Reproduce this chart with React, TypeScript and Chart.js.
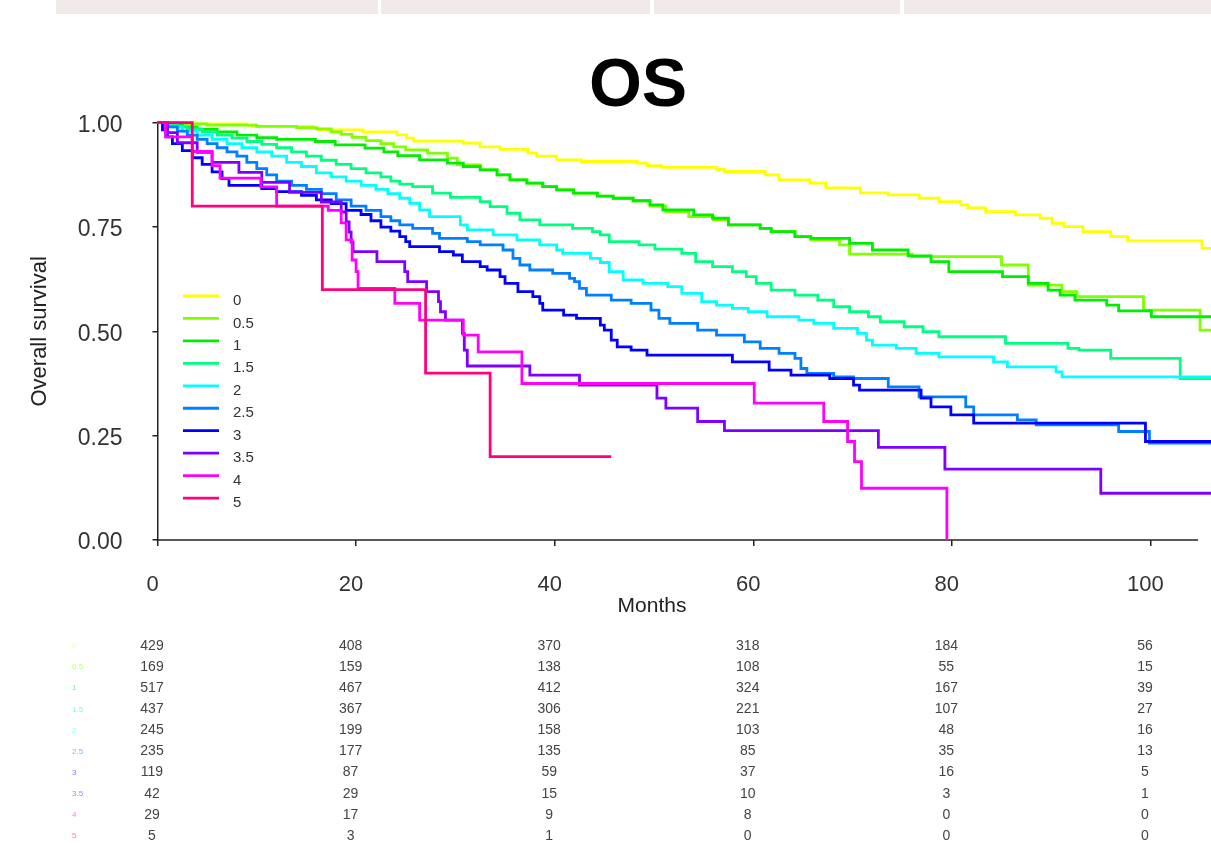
import React, { useEffect, useRef } from 'react';
import { Chart, registerables } from 'chart.js';

Chart.register(...registerables);

// ---------- data ----------
const groupLabels = ['0', '0.5', '1', '1.5', '2', '2.5', '3', '3.5', '4', '5'];
const groupColors = ['#ffff00', '#80ff00', '#00ee00', '#00ff80', '#00ffff', '#0080ff', '#0000ff', '#8000ff', '#ff00ff', '#ff0080'];

// [months, survival] after each step
const surv0: [number, number][] = [[0,1],[3.6,0.997],[9,0.994],[9.6,0.991],[15.7,0.987],[16.2,0.983],[20.7,0.978],[24.1,0.971],[25.1,0.963],[25.8,0.956],[30.8,0.951],[32.5,0.942],[34.5,0.936],[37.3,0.927],[38.2,0.92],[40.2,0.911],[42.7,0.907],[48.3,0.903],[49.3,0.897],[50.8,0.893],[56.3,0.888],[57.1,0.883],[61.2,0.875],[62.6,0.863],[65.7,0.855],[67.3,0.844],[70.8,0.832],[73.6,0.827],[76.7,0.819],[78.7,0.811],[80.9,0.803],[81.6,0.796],[83.4,0.787],[86.4,0.779],[88.9,0.771],[90.1,0.759],[91.3,0.751],[93.2,0.739],[96,0.727],[97.7,0.717],[105.2,0.699],[107,0.699]];
const surv05: [number, number][] = [[0,1],[2,0.997],[5,0.994],[10,0.991],[14,0.988],[16,0.985],[17.5,0.978],[18.5,0.972],[19.6,0.965],[21,0.957],[22.5,0.95],[23.8,0.942],[25,0.935],[27.2,0.927],[29.2,0.915],[30.2,0.899],[32.5,0.887],[34.2,0.875],[35.5,0.863],[37.2,0.855],[38.8,0.847],[40.2,0.839],[41.9,0.831],[44.3,0.824],[45.9,0.819],[47.9,0.813],[49.6,0.8],[51.2,0.787],[53.5,0.775],[56,0.767],[57.5,0.755],[60.7,0.747],[61.8,0.739],[64.2,0.727],[65.8,0.719],[68.7,0.707],[69.7,0.685],[76,0.679],[85,0.659],[87.7,0.611],[91.1,0.595],[92.6,0.583],[99.3,0.551],[105,0.503],[107,0.503]];
const surv1: [number, number][] = [[0,1],[1,0.995],[2.5,0.99],[4,0.984],[6,0.978],[8,0.97],[10,0.964],[12,0.96],[15.9,0.955],[17.9,0.947],[20.9,0.939],[22.8,0.93],[24.2,0.921],[26.4,0.911],[29.2,0.903],[30.8,0.895],[32.5,0.887],[34.2,0.875],[35.5,0.863],[37.2,0.855],[38.8,0.847],[40.2,0.839],[41.9,0.831],[44.3,0.824],[45.9,0.819],[47.9,0.813],[49.6,0.803],[50.9,0.791],[54,0.779],[55.9,0.771],[57.5,0.755],[60.7,0.747],[61.8,0.739],[64.2,0.727],[65.8,0.723],[69.7,0.711],[72,0.695],[75.6,0.681],[77.9,0.667],[79.7,0.643],[85.1,0.631],[87.7,0.615],[89.7,0.599],[90.9,0.587],[92.4,0.575],[95.6,0.563],[96.8,0.549],[100.1,0.535],[107,0.535]];
const surv15: [number, number][] = [[0,1],[1,0.995],[2,0.99],[3,0.985],[4.5,0.978],[6,0.97],[7.5,0.963],[9,0.955],[10.5,0.948],[12,0.94],[13.5,0.93],[15,0.92],[16.5,0.91],[18,0.9],[19.5,0.89],[21,0.88],[22.5,0.87],[23.5,0.86],[24.4,0.853],[25.7,0.847],[27.7,0.831],[29.5,0.821],[32.5,0.811],[33.5,0.799],[35.2,0.783],[36.5,0.767],[38.5,0.755],[41.8,0.747],[43.8,0.739],[44.6,0.731],[45.5,0.715],[48.5,0.707],[50.1,0.697],[52.8,0.687],[54.2,0.667],[55.9,0.655],[57.9,0.643],[59.3,0.631],[60.3,0.615],[61.8,0.599],[64.2,0.587],[66.5,0.575],[68.1,0.559],[69.7,0.547],[71.6,0.535],[72.8,0.523],[75.2,0.511],[77.1,0.499],[78.7,0.487],[85.4,0.471],[91.7,0.459],[92.8,0.455],[96,0.435],[103,0.387],[107,0.387]];
const surv2: [number, number][] = [[0,1],[1,0.99],[2.5,0.98],[4,0.97],[5.5,0.96],[7,0.95],[8.5,0.94],[10,0.93],[11.5,0.92],[13,0.905],[14.5,0.895],[16,0.88],[17.5,0.87],[19,0.86],[20.5,0.85],[22,0.84],[23.2,0.83],[24.4,0.819],[25.4,0.807],[26.4,0.791],[27.4,0.775],[30.5,0.755],[31.2,0.743],[33.8,0.731],[36.2,0.719],[38.5,0.707],[40.2,0.695],[40.8,0.687],[43.6,0.675],[44.6,0.665],[45.5,0.643],[46.9,0.623],[48.9,0.615],[51.4,0.607],[52.8,0.591],[54.8,0.571],[56.3,0.563],[57.9,0.555],[59.5,0.547],[61.4,0.535],[64.6,0.527],[66.1,0.519],[68.1,0.507],[70.5,0.495],[71.4,0.479],[72,0.467],[74.4,0.459],[76.4,0.447],[78.7,0.439],[84.2,0.427],[85.6,0.415],[90.5,0.403],[91.1,0.391],[107,0.391]];
const surv25: [number, number][] = [[0,1],[1,0.99],[2,0.98],[3,0.97],[4,0.96],[5,0.95],[6,0.94],[7,0.93],[8,0.92],[9,0.905],[10,0.89],[11,0.875],[12,0.86],[13.5,0.85],[15,0.84],[16.5,0.83],[18,0.815],[19.5,0.8],[21,0.79],[22.5,0.775],[23.5,0.765],[24.4,0.755],[25.7,0.747],[27.7,0.735],[28.4,0.723],[31.2,0.715],[32.5,0.707],[34.8,0.695],[35.8,0.675],[36.5,0.659],[37.5,0.647],[39.8,0.639],[41.5,0.627],[42,0.619],[42.5,0.603],[43.2,0.587],[45.7,0.575],[47.7,0.567],[49.7,0.551],[50.5,0.531],[51.6,0.519],[54.4,0.503],[56.3,0.491],[59.1,0.475],[60.7,0.459],[62.6,0.447],[64.2,0.435],[64.8,0.411],[65.4,0.399],[68.1,0.391],[70.1,0.387],[73.6,0.367],[76.7,0.343],[81.4,0.319],[82.2,0.3],[86.6,0.288],[88.5,0.276],[96.8,0.26],[99.9,0.232],[107,0.232]];
const surv3: [number, number][] = [[0,1],[0.5,0.983],[1,0.966],[1.5,0.95],[2.5,0.933],[3.5,0.916],[4.5,0.9],[5.5,0.882],[6.5,0.866],[7.2,0.85],[10.5,0.842],[12,0.835],[14.5,0.826],[16,0.815],[17.5,0.806],[19,0.79],[20.5,0.78],[21.5,0.765],[22.5,0.75],[23.5,0.74],[24.4,0.727],[25,0.715],[25.4,0.703],[28.4,0.691],[29.8,0.683],[30.7,0.667],[32.5,0.655],[33.2,0.647],[34.5,0.631],[35,0.615],[36.3,0.595],[37.8,0.583],[38.5,0.567],[38.8,0.551],[40.9,0.539],[42.2,0.531],[44.6,0.515],[45,0.503],[45.7,0.479],[46.3,0.463],[47.7,0.455],[49.3,0.443],[57.9,0.427],[61.6,0.407],[63.8,0.395],[67.7,0.387],[70.1,0.371],[70.7,0.359],[76.9,0.34],[77.9,0.319],[79.9,0.3],[82.2,0.28],[99.5,0.236],[107,0.236]];
const surv35: [number, number][] = [[0,1],[1,0.976],[2,0.952],[4,0.929],[5.5,0.905],[8.2,0.881],[10.5,0.857],[13.3,0.833],[16.5,0.81],[18.5,0.786],[19,0.762],[19.3,0.738],[19.5,0.714],[19.7,0.691],[22.1,0.667],[24.9,0.643],[25.2,0.619],[27.1,0.595],[28.3,0.571],[28.5,0.547],[29,0.527],[30.7,0.495],[30.9,0.455],[31.2,0.417],[37.5,0.395],[42.5,0.371],[50.3,0.34],[51.2,0.316],[54.4,0.284],[57.1,0.262],[72.6,0.222],[79.3,0.17],[95,0.112],[107,0.112]];
const surv4: [number, number][] = [[0,1],[0.8,0.966],[3.5,0.931],[5.5,0.897],[6.3,0.867],[10.4,0.846],[12,0.8],[17.2,0.79],[18.5,0.76],[19,0.719],[19.6,0.671],[20,0.643],[20.2,0.603],[23.9,0.567],[26.4,0.527],[30.8,0.491],[32.3,0.451],[36.7,0.375],[60.1,0.328],[67.1,0.284],[69.5,0.236],[70.2,0.188],[70.9,0.124],[79.5,0]];
const surv5: [number, number][] = [[0,1],[3.5,0.8],[16.6,0.6],[27,0.4],[33.5,0.2],[45.7,0.2]];

const survivalSeries = [surv0, surv05, surv1, surv15, surv2, surv25, surv3, surv35, surv4, surv5];

const riskTimes = [0, 20, 40, 60, 80, 100];
const risk0 = [429, 408, 370, 318, 184, 56];
const risk05 = [169, 159, 138, 108, 55, 15];
const risk1 = [517, 467, 412, 324, 167, 39];
const risk15 = [437, 367, 306, 221, 107, 27];
const risk2 = [245, 199, 158, 103, 48, 16];
const risk25 = [235, 177, 135, 85, 35, 13];
const risk3 = [119, 87, 59, 37, 16, 5];
const risk35 = [42, 29, 15, 10, 3, 1];
const risk4 = [29, 17, 9, 8, 0, 0];
const risk5 = [5, 3, 1, 0, 0, 0];
const riskRows = [risk0, risk05, risk1, risk15, risk2, risk25, risk3, risk35, risk4, risk5];

const xTickStep = 20;
const yTickStep = 0.25;
const xAxisEnd = 104.8;
const xViewMax = 106.1;

const FONT = '"Liberation Sans", Arial, Helvetica, sans-serif';

const decorPlugin = {
  id: 'decor',
  beforeDraw(chart: any) {
    const ctx = chart.ctx as CanvasRenderingContext2D;
    ctx.save();
    ctx.fillStyle = '#ffffff';
    ctx.fillRect(0, 0, chart.width, chart.height);
    // top tab strip of the page
    ctx.fillStyle = '#f2e9e9';
    const tabs = [[56, 378], [381, 650], [654, 900], [904, 1211]];
    for (const [a, b] of tabs) ctx.fillRect(a, 0, b - a, 14);
    ctx.restore();
  },
  beforeDatasetsDraw(chart: any) {
    const ctx = chart.ctx as CanvasRenderingContext2D;
    const xs = chart.scales.x;
    const ys = chart.scales.y;
    ctx.save();
    ctx.strokeStyle = '#222';
    ctx.lineWidth = 1.5;
    ctx.beginPath();
    const y0 = ys.getPixelForValue(0);
    ctx.moveTo(xs.getPixelForValue(0) - 1, y0);
    ctx.lineTo(xs.getPixelForValue(xAxisEnd), y0);
    ctx.stroke();
    ctx.restore();
  },
  afterDraw(chart: any) {
    const ctx = chart.ctx as CanvasRenderingContext2D;
    const xs = chart.scales.x;
    ctx.save();
    // title
    ctx.fillStyle = '#000';
    ctx.font = `bold 68px ${FONT}`;
    ctx.textAlign = 'center';
    ctx.textBaseline = 'alphabetic';
    ctx.fillText('OS', 638, 106);
    // x axis title
    ctx.fillStyle = '#222';
    ctx.font = `21px ${FONT}`;
    ctx.textBaseline = 'middle';
    ctx.fillText('Months', xs.getPixelForValue(50) - 2, 606);

    // legend
    const lx0 = 183, lx1 = 219, ly0 = 296, lstep = 22.45;
    ctx.textAlign = 'left';
    ctx.font = `15px ${FONT}`;
    chart.data.datasets.forEach((ds: any, i: number) => {
      const y = ly0 + i * lstep;
      ctx.strokeStyle = ds.borderColor;
      ctx.lineWidth = 2.8;
      ctx.beginPath();
      ctx.moveTo(lx0, y);
      ctx.lineTo(lx1, y);
      ctx.stroke();
      ctx.fillStyle = '#333';
      ctx.fillText(ds.label, 233, y + 5);
    });

    // numbers at risk
    const ry0 = 646, rstep = 21.1;
    riskRows.forEach((row, i) => {
      const y = ry0 + i * rstep;
      ctx.globalAlpha = 0.55;
      ctx.fillStyle = groupColors[i];
      ctx.font = `8px ${FONT}`;
      ctx.textAlign = 'left';
      ctx.fillText(groupLabels[i], 72, y);
      ctx.globalAlpha = 1;
      ctx.fillStyle = '#444';
      ctx.font = `14px ${FONT}`;
      ctx.textAlign = 'center';
      row.forEach((n, j) => {
        ctx.fillText(String(n), xs.getPixelForValue(riskTimes[j]) - 5.5, y);
      });
    });
    ctx.restore();
  },
};

export default function App() {
  const canvasRef = useRef<HTMLCanvasElement | null>(null);

  useEffect(() => {
    const canvas = canvasRef.current;
    if (!canvas) return;
    const chart = new Chart(canvas, {
      type: 'line',
      data: {
        datasets: survivalSeries.map((pts, i) => ({
          label: groupLabels[i],
          data: pts.map(([x, y]) => ({ x, y })),
          borderColor: groupColors[i],
          backgroundColor: groupColors[i],
          borderWidth: 2.8,
          stepped: true,
          pointRadius: 0,
          fill: false,
          clip: false as any,
          order: -i,
        })),
      },
      options: {
        responsive: false,
        animation: false,
        devicePixelRatio: 1,
        events: [],
        layout: { padding: { left: 0, top: 122.7, right: 0, bottom: 227 } },
        plugins: {
          legend: { display: false },
          tooltip: { enabled: false },
          title: { display: false },
        },
        scales: {
          x: {
            type: 'linear',
            min: 0,
            max: xViewMax,
            border: { display: false },
            grid: { drawOnChartArea: false, drawTicks: true, tickLength: 6, color: '#222', lineWidth: 1.5 },
            ticks: {
              stepSize: xTickStep,
              includeBounds: false,
              autoSkip: false,
              maxRotation: 0,
              padding: 26,
              labelOffset: -5,
              color: '#333',
              font: { family: FONT, size: 22 },
            },
            afterFit: (s: any) => { s.height = 78; },
          },
          y: {
            type: 'linear',
            min: 0,
            max: 1,
            border: { display: true, color: '#222', width: 1.5 },
            grid: { drawOnChartArea: false, drawTicks: true, tickLength: 5, color: '#222', lineWidth: 1.5 },
            ticks: {
              stepSize: yTickStep,
              padding: 30,
              labelOffset: 3,
              color: '#333',
              font: { family: FONT, size: 23 },
              callback: (v: any) => Number(v).toFixed(2),
            },
            title: {
              display: true,
              text: 'Overall survival',
              color: '#222',
              font: { family: FONT, size: 22 },
              padding: { top: 27, bottom: 0 },
            },
            afterFit: (s: any) => { s.width = 157.5; },
          },
        },
      },
      plugins: [decorPlugin],
    } as any);
    return () => chart.destroy();
  }, []);

  return (
    <div style={{ position: 'fixed', left: 0, top: 0, width: 1211, height: 845, background: '#fff' }}>
      <canvas ref={canvasRef} width={1211} height={845} style={{ width: 1211, height: 845, display: 'block' }} />
    </div>
  );
}
